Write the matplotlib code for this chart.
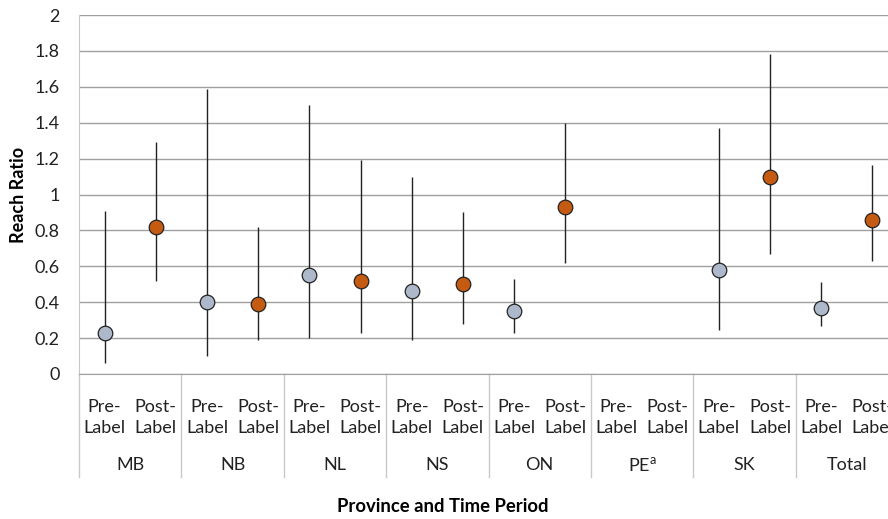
import numpy as np
import matplotlib.pyplot as plt
import matplotlib.transforms as mtransforms

plt.rcParams['font.family'] = ['Lato', 'DejaVu Sans']

# provinces (groups) and time periods
provinces = ['MB', 'NB', 'NL', 'NS', 'ON', 'PE$^{\\mathregular{a}}$', 'SK', 'Total']
periods = ['Pre-\nLabel', 'Post-\nLabel']

# reach ratio with 95% CI, pre-label period (PE has no estimate)
pre_val = [0.23, 0.40, 0.55, 0.46, 0.35, np.nan, 0.58, 0.37]
pre_low = [0.06, 0.10, 0.20, 0.19, 0.23, np.nan, 0.245, 0.27]
pre_high = [0.91, 1.59, 1.50, 1.10, 0.53, np.nan, 1.37, 0.51]

# post-label period
post_val = [0.82, 0.39, 0.52, 0.50, 0.93, np.nan, 1.095, 0.86]
post_low = [0.52, 0.19, 0.23, 0.28, 0.62, np.nan, 0.67, 0.63]
post_high = [1.29, 0.82, 1.19, 0.90, 1.40, np.nan, 1.78, 1.165]

pre_val = np.array(pre_val)
post_val = np.array(post_val)

fig = plt.figure(figsize=(8.88, 5.19), dpi=100)
ax = fig.add_axes([79 / 888, 145 / 519, 819 / 888, 359 / 519])

x_pre = np.arange(len(provinces)) * 2
x_post = x_pre + 1

# error bars first, then markers on top
ax.errorbar(x_pre, pre_val,
            yerr=[pre_val - np.array(pre_low), np.array(pre_high) - pre_val],
            fmt='none', ecolor='#222222', elinewidth=1.0, capsize=0, zorder=3)
ax.errorbar(x_post, post_val,
            yerr=[post_val - np.array(post_low), np.array(post_high) - post_val],
            fmt='none', ecolor='#222222', elinewidth=1.0, capsize=0, zorder=3)
ax.plot(x_pre, pre_val, 'o', ms=10.5, mfc='#ADB9CA', mec='#222222', mew=0.9, zorder=4)
ax.plot(x_post, post_val, 'o', ms=10.5, mfc='#C55A11', mec='#222222', mew=0.9, zorder=4)

ax.set_xlim(-0.5, 2 * len(provinces) - 0.5)
ax.set_ylim(0, 2)
ax.set_yticks(np.arange(0, 2.01, 0.2))
ax.set_yticklabels(['0', '0.2', '0.4', '0.6', '0.8', '1', '1.2', '1.4', '1.6', '1.8', '2'])
ax.yaxis.grid(True, color='#A0A0A0', linewidth=1.0)
ax.set_axisbelow(True)
ax.tick_params(axis='y', length=0, pad=14, labelsize=13, colors='#222222')
ax.set_xticks([])

for side in ['top', 'right']:
    ax.spines[side].set_visible(False)
ax.spines['left'].set_color('#C8C8C8')
ax.spines['bottom'].set_color('#A0A0A0')

# category axis labels: periods, provinces, separators
trans = mtransforms.blended_transform_factory(ax.transData, ax.transAxes)
px = 1 / 359
for i, prov in enumerate(provinces):
    for j, per in enumerate(periods):
        ax.text(2 * i + j, -25 * px, per, transform=trans, ha='center', va='top',
                fontsize=13, color='#222222', linespacing=1.4)
    ax.text(2 * i + 0.5, -91 * px, prov, transform=trans, ha='center', va='center',
            fontsize=13, color='#222222')
for k in range(len(provinces) + 1):
    ax.plot([2 * k - 0.5, 2 * k - 0.5], [0, -103 * px], transform=trans,
            color='#C8C8C8', linewidth=1.0, clip_on=False)

ax.set_ylabel('Reach Ratio', fontsize=13, fontweight='bold', labelpad=5)
fig.text(443 / 888, 1 - 506 / 519, 'Province and Time Period', ha='center', va='center',
         fontsize=13.3, fontweight='bold')

plt.savefig('out.png', dpi=100)
